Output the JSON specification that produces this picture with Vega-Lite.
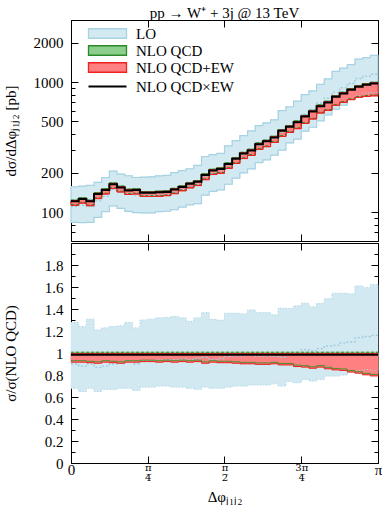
{
"$schema": "https://vega.github.io/schema/vega-lite/v6.json",
"padding": {"left": 2, "top": 5, "right": 5, "bottom": 0},
"spacing": 0,
"config": {
  "font": "Liberation Serif",
  "view": {"stroke": "black", "strokeWidth": 1},
  "axis": {"labelFont": "Liberation Serif", "labelFontSize": 15, "titleFont": "Liberation Serif", "titleFontSize": 15, "titleFontWeight": "normal", "labelColor": "black", "titleColor": "black", "domain": false, "grid": false, "tickColor": "black", "tickWidth": 1, "labelFlush": false, "labelOverlap": false, "labelBound": false},
  "legend": {"labelFont": "Liberation Serif", "labelFontSize": 15, "labelColor": "black"},
  "line": {"strokeJoin": "miter", "strokeCap": "butt"}
},
"datasets": {"h": [
{"i":0,"a":0,"b":0.07854,"lL":83.5,"lH":156.8,"lC":110.5,"qL":114.2,"qH":123.7,"eL":112.6,"eH":122.3,"m":121,"rlL":0.68,"rlH":1.277,"rlC":0.90,"rqL":0.93,"rqH":1.007,"reL":0.917,"reH":0.996,"rm":0.985},
{"i":1,"a":0.07854,"b":0.15708,"lL":83.1,"lH":158.6,"lC":112.6,"qL":118.9,"qH":128.8,"eL":117.3,"eH":127.4,"m":126,"rlL":0.65,"rlH":1.24,"rlC":0.88,"rqL":0.93,"rqH":1.007,"reL":0.917,"reH":0.996,"rm":0.985},
{"i":2,"a":0.15708,"b":0.23562,"lL":83.5,"lH":160.5,"lC":110.5,"qL":113.6,"qH":123.7,"eL":112.0,"eH":122.3,"m":121,"rlL":0.68,"rlH":1.307,"rlC":0.90,"rqL":0.925,"rqH":1.007,"reL":0.912,"reH":0.996,"rm":0.985},
{"i":3,"a":0.23562,"b":0.31416,"lL":91.1,"lH":169.5,"lC":121.9,"qL":128.9,"qH":141.1,"eL":127.1,"eH":139.5,"m":138,"rlL":0.65,"rlH":1.21,"rlC":0.87,"rqL":0.92,"rqH":1.007,"reL":0.907,"reH":0.996,"rm":0.985},
{"i":4,"a":0.31416,"b":0.3927,"lL":100.7,"lH":184.6,"lC":132.3,"qL":139.8,"qH":151.4,"eL":137.8,"eH":149.7,"m":148,"rlL":0.67,"rlH":1.228,"rlC":0.88,"rqL":0.93,"rqH":1.007,"reL":0.917,"reH":0.996,"rm":0.985},
{"i":5,"a":0.3927,"b":0.47124,"lL":111.6,"lH":206.5,"lC":149.9,"qL":154.0,"qH":167.7,"eL":151.8,"eH":165.8,"m":164,"rlL":0.67,"rlH":1.24,"rlC":0.90,"rqL":0.925,"rqH":1.007,"reL":0.912,"reH":0.996,"rm":0.985},
{"i":6,"a":0.47124,"b":0.54978,"lL":107.0,"lH":196.1,"lC":143.2,"qL":144.8,"qH":158.5,"eL":142.8,"eH":156.8,"m":155,"rlL":0.68,"rlH":1.246,"rlC":0.91,"rqL":0.92,"rqH":1.007,"reL":0.907,"reH":0.996,"rm":0.985},
{"i":7,"a":0.54978,"b":0.62832,"lL":101.5,"lH":190.5,"lC":138.8,"qL":138.8,"qH":150.2,"eL":136.8,"eH":148.6,"m":147,"rlL":0.68,"rlH":1.277,"rlC":0.93,"rqL":0.93,"rqH":1.007,"reL":0.917,"reH":0.996,"rm":0.985},
{"i":8,"a":0.62832,"b":0.70686,"lL":99.2,"lH":184.6,"lC":135.3,"qL":139.8,"qH":151.4,"eL":137.8,"eH":149.7,"m":148,"rlL":0.66,"rlH":1.228,"rlC":0.90,"rqL":0.93,"rqH":1.007,"reL":0.917,"reH":0.996,"rm":0.985},
{"i":9,"a":0.70686,"b":0.7854,"lL":98.7,"lH":186.0,"lC":133.1,"qL":133.8,"qH":144.1,"eL":131.9,"eH":142.5,"m":141,"rlL":0.69,"rlH":1.30,"rlC":0.93,"rqL":0.935,"rqH":1.007,"reL":0.922,"reH":0.996,"rm":0.985},
{"i":10,"a":0.7854,"b":0.86394,"lL":98.7,"lH":187.0,"lC":133.1,"qL":133.8,"qH":144.1,"eL":131.9,"eH":142.5,"m":141,"rlL":0.69,"rlH":1.307,"rlC":0.93,"rqL":0.935,"rqH":1.007,"reL":0.922,"reH":0.996,"rm":0.985},
{"i":11,"a":0.86394,"b":0.94248,"lL":100.9,"lH":190.2,"lC":134.8,"qL":134.1,"qH":145.2,"eL":132.2,"eH":143.6,"m":142,"rlL":0.70,"rlH":1.319,"rlC":0.935,"rqL":0.93,"rqH":1.007,"reL":0.917,"reH":0.996,"rm":0.985},
{"i":12,"a":0.94248,"b":1.02102,"lL":101.6,"lH":192.0,"lC":136.5,"qL":135.8,"qH":146.2,"eL":133.9,"eH":144.6,"m":143,"rlL":0.70,"rlH":1.322,"rlC":0.94,"rqL":0.935,"rqH":1.007,"reL":0.922,"reH":0.996,"rm":0.985},
{"i":13,"a":1.02102,"b":1.09956,"lL":104.4,"lH":201.4,"lC":142.2,"qL":140.7,"qH":152.4,"eL":138.7,"eH":150.7,"m":149,"rlL":0.69,"rlH":1.331,"rlC":0.94,"rqL":0.93,"rqH":1.007,"reL":0.917,"reH":0.996,"rm":0.985},
{"i":14,"a":1.09956,"b":1.1781,"lL":109.3,"lH":208.9,"lC":149.7,"qL":148.1,"qH":159.5,"eL":146.0,"eH":157.8,"m":156,"rlL":0.69,"rlH":1.319,"rlC":0.945,"rqL":0.935,"rqH":1.007,"reL":0.922,"reH":0.996,"rm":0.985},
{"i":15,"a":1.1781,"b":1.25664,"lL":113.9,"lH":215.6,"lC":157.5,"qL":155.8,"qH":168.7,"eL":153.6,"eH":166.8,"m":165,"rlL":0.68,"rlH":1.287,"rlC":0.94,"rqL":0.93,"rqH":1.007,"reL":0.917,"reH":0.996,"rm":0.985},
{"i":16,"a":1.25664,"b":1.33518,"lL":116.3,"lH":229.0,"lC":164.9,"qL":162.3,"qH":174.8,"eL":160.1,"eH":172.9,"m":171,"rlL":0.67,"rlH":1.319,"rlC":0.95,"rqL":0.935,"rqH":1.007,"reL":0.922,"reH":0.996,"rm":0.985},
{"i":17,"a":1.33518,"b":1.41372,"lL":135.2,"lH":267.8,"lC":188.1,"qL":180.2,"qH":197.3,"eL":177.7,"eH":195.1,"m":193,"rlL":0.69,"rlH":1.367,"rlC":0.96,"rqL":0.92,"rqH":1.007,"reL":0.907,"reH":0.996,"rm":0.985},
{"i":18,"a":1.41372,"b":1.49226,"lL":144.3,"lH":277.1,"lC":199.5,"qL":197.3,"qH":213.7,"eL":194.6,"eH":211.3,"m":209,"rlL":0.68,"rlH":1.306,"rlC":0.94,"rqL":0.93,"rqH":1.007,"reL":0.917,"reH":0.996,"rm":0.985},
{"i":19,"a":1.49226,"b":1.5708,"lL":148.4,"lH":283.1,"lC":207.4,"qL":201.9,"qH":219.8,"eL":199.1,"eH":217.4,"m":215,"rlL":0.68,"rlH":1.297,"rlC":0.95,"rqL":0.925,"rqH":1.007,"reL":0.912,"reH":0.996,"rm":0.985},
{"i":20,"a":1.5708,"b":1.64934,"lL":163.9,"lH":323.4,"lC":230.5,"qL":219.8,"qH":239.3,"eL":216.7,"eH":236.6,"m":234,"rlL":0.69,"rlH":1.361,"rlC":0.97,"rqL":0.925,"rqH":1.007,"reL":0.912,"reH":0.996,"rm":0.985},
{"i":21,"a":1.64934,"b":1.72788,"lL":182.6,"lH":355.1,"lC":254.4,"qL":240.0,"qH":262.7,"eL":236.6,"eH":259.9,"m":257,"rlL":0.70,"rlH":1.361,"rlC":0.975,"rqL":0.92,"rqH":1.007,"reL":0.907,"reH":0.996,"rm":0.985},
{"i":22,"a":1.72788,"b":1.80642,"lL":200.4,"lH":387.9,"lC":279.1,"qL":262.0,"qH":288.3,"eL":258.2,"eH":285.1,"m":282,"rlL":0.70,"rlH":1.355,"rlC":0.975,"rqL":0.915,"rqH":1.007,"reL":0.902,"reH":0.996,"rm":0.985},
{"i":23,"a":1.80642,"b":1.88496,"lL":214.8,"lH":420.8,"lC":296.5,"qL":276.8,"qH":304.6,"eL":272.9,"eH":301.3,"m":298,"rlL":0.71,"rlH":1.391,"rlC":0.98,"rqL":0.915,"rqH":1.007,"reL":0.902,"reH":0.996,"rm":0.985},
{"i":24,"a":1.88496,"b":1.9635,"lL":240.1,"lH":462.2,"lC":328.0,"qL":307.7,"qH":340.5,"eL":303.3,"eH":336.7,"m":333,"rlL":0.71,"rlH":1.367,"rlC":0.97,"rqL":0.91,"rqH":1.007,"reL":0.897,"reH":0.996,"rm":0.985},
{"i":25,"a":1.9635,"b":2.04204,"lL":252.3,"lH":485.7,"lC":346.4,"qL":323.3,"qH":357.8,"eL":318.7,"eH":353.9,"m":350,"rlL":0.71,"rlH":1.367,"rlC":0.975,"rqL":0.91,"rqH":1.007,"reL":0.897,"reH":0.996,"rm":0.985},
{"i":26,"a":2.04204,"b":2.12058,"lL":274.1,"lH":512.4,"lC":369.3,"qL":348.3,"qH":383.4,"eL":343.4,"eH":379.2,"m":375,"rlL":0.72,"rlH":1.346,"rlC":0.97,"rqL":0.915,"rqH":1.007,"reL":0.902,"reH":0.996,"rm":0.985},
{"i":27,"a":2.12058,"b":2.19911,"lL":299.9,"lH":602.8,"lC":411.3,"qL":387.7,"qH":431.4,"eL":382.1,"eH":426.7,"m":422,"rlL":0.70,"rlH":1.407,"rlC":0.96,"rqL":0.905,"rqH":1.007,"reL":0.892,"reH":0.996,"rm":0.985},
{"i":28,"a":2.19911,"b":2.27765,"lL":340.3,"lH":645.7,"lC":455.3,"qL":416.2,"qH":463.1,"eL":410.2,"eH":458.1,"m":453,"rlL":0.74,"rlH":1.404,"rlC":0.99,"rqL":0.905,"rqH":1.007,"reL":0.892,"reH":0.996,"rm":0.985},
{"i":29,"a":2.27765,"b":2.35619,"lL":364.6,"lH":713.3,"lC":499.5,"qL":444.6,"qH":503.0,"eL":438.1,"eH":497.5,"m":492,"rlL":0.73,"rlH":1.428,"rlC":1.0,"rqL":0.89,"rqH":1.007,"reL":0.877,"reH":0.996,"rm":0.985},
{"i":30,"a":2.35619,"b":2.43473,"lL":419.0,"lH":800.5,"lC":567.8,"qL":487.9,"qH":555.2,"eL":480.7,"eH":549.1,"m":543,"rlL":0.76,"rlH":1.452,"rlC":1.03,"rqL":0.885,"rqH":1.007,"reL":0.872,"reH":0.996,"rm":0.985},
{"i":31,"a":2.43473,"b":2.51327,"lL":449.2,"lH":855.7,"lC":615.1,"qL":527.6,"qH":607.2,"eL":519.8,"eH":600.6,"m":594,"rlL":0.745,"rlH":1.419,"rlC":1.02,"rqL":0.875,"rqH":1.007,"reL":0.862,"reH":0.996,"rm":0.985},
{"i":32,"a":2.51327,"b":2.59181,"lL":503.8,"lH":960.5,"lC":689.4,"qL":586.7,"qH":667.5,"eL":578.0,"eH":660.2,"m":653,"rlL":0.76,"rlH":1.449,"rlC":1.04,"rqL":0.885,"rqH":1.007,"reL":0.872,"reH":0.996,"rm":0.985},
{"i":33,"a":2.59181,"b":2.67035,"lL":559.0,"lH":1057.2,"lC":753.6,"qL":615.6,"qH":712.6,"eL":606.4,"eH":704.8,"m":697,"rlL":0.79,"rlH":1.494,"rlC":1.065,"rqL":0.87,"rqH":1.007,"reL":0.857,"reH":0.996,"rm":0.985},
{"i":34,"a":2.67035,"b":2.74889,"lL":618.3,"lH":1207.7,"lC":837.5,"qL":673.1,"qH":788.2,"eL":662.9,"eH":779.6,"m":771,"rlL":0.79,"rlH":1.543,"rlC":1.07,"rqL":0.86,"rqH":1.007,"reL":0.847,"reH":0.996,"rm":0.985},
{"i":35,"a":2.74889,"b":2.82743,"lL":663.5,"lH":1279.8,"lC":904.0,"qL":709.1,"qH":835.2,"eL":698.4,"eH":826.1,"m":817,"rlL":0.80,"rlH":1.543,"rlC":1.09,"rqL":0.855,"rqH":1.007,"reL":0.842,"reH":0.996,"rm":0.985},
{"i":36,"a":2.82743,"b":2.90597,"lL":744.5,"lH":1362.2,"lC":974.9,"qL":744.5,"qH":892.5,"eL":733.0,"eH":882.8,"m":873,"rlL":0.84,"rlH":1.537,"rlC":1.10,"rqL":0.84,"rqH":1.007,"reL":0.827,"reH":0.996,"rm":0.985},
{"i":37,"a":2.90597,"b":2.98451,"lL":784.6,"lH":1502.8,"lC":1064.8,"qL":775.2,"qH":940.5,"eL":763.1,"eH":930.3,"m":920,"rlL":0.84,"rlH":1.609,"rlC":1.14,"rqL":0.83,"rqH":1.007,"reL":0.817,"reH":0.996,"rm":0.985},
{"i":38,"a":2.98451,"b":3.06305,"lL":822.4,"lH":1542.2,"lC":1112.6,"qL":788.5,"qH":974.3,"eL":775.9,"eH":963.6,"m":953,"rlL":0.85,"rlH":1.594,"rlC":1.15,"rqL":0.815,"rqH":1.007,"reL":0.802,"reH":0.996,"rm":0.985},
{"i":39,"a":3.06305,"b":3.14159,"lL":831.4,"lH":1604.5,"lC":1148.2,"qL":796.8,"qH":996.7,"eL":783.9,"eH":985.8,"m":975,"rlL":0.84,"rlH":1.621,"rlC":1.16,"rqL":0.805,"rqH":1.007,"reL":0.792,"reH":0.996,"rm":0.985}
]},
"vconcat": [
{
  "width": 307, "height": 221,
  "title": {"text": "pp → W⁺ + 3j @ 13 TeV", "font": "Liberation Serif", "fontSize": 15, "fontWeight": "normal", "color": "black", "anchor": "middle", "frame": "group", "offset": -1},
  "data": {"name": "h"},
  "transform": [{"fold": ["a", "b"], "as": ["edge", "x"]}],
  "encoding": {
    "x": {"field": "x", "type": "quantitative", "scale": {"domain": [0, 3.141593], "nice": false, "zero": false}, "axis": null},
    "order": [{"field": "x", "type": "quantitative"}, {"field": "i", "type": "quantitative"}]
  },
  "layer": [
    {"mark": {"type": "area", "opacity": 1, "strokeWidth": 1.2},
     "encoding": {
       "x": {"field": "x", "type": "quantitative", "scale": {"domain": [0, 3.141593], "nice": false, "zero": false}, "axis": {"orient": "bottom", "values": [0, 0.785398, 1.570796, 2.356194, 3.141593], "labels": false, "tickSize": -7, "title": null}},
       "y": {"field": "lL", "type": "quantitative", "scale": {"type": "log", "domain": [60, 3000], "nice": false}, "axis": {"orient": "left", "values": [100, 200, 500, 1000, 2000], "format": "d", "tickSize": -7, "labelPadding": 15, "minExtent": 40, "maxExtent": 40, "titlePadding": 13, "title": "dσ/dΔφⱼ₁ⱼ₂ [pb]"}},
       "y2": {"field": "lH"},
       "fill": {"datum": "LO", "type": "nominal",
         "scale": {"domain": ["LO", "NLO QCD", "NLO QCD+EW"], "range": ["#d3e9f1", "#8ccf8c", "#ff8080"]},
         "legend": {"orient": "none", "legendX": 29, "legendY": 6, "title": null, "padding": 0, "symbolType": "M-5,-1.25H5V1.25H-5Z", "symbolSize": 57.76, "symbolStrokeWidth": 1.3, "labelOffset": 21, "rowPadding": 1}},
       "stroke": {"datum": "LO", "type": "nominal",
         "scale": {"domain": ["LO", "NLO QCD", "NLO QCD+EW"], "range": ["#a7d3e3", "#2a8a2a", "#ee2222"]},
         "legend": {"orient": "none", "legendX": 29, "legendY": 6, "title": null, "padding": 0, "symbolType": "M-5,-1.25H5V1.25H-5Z", "symbolSize": 57.76, "symbolStrokeWidth": 1.3, "labelOffset": 21, "rowPadding": 1}},
       "strokeDash": {"datum": "LO", "type": "nominal",
         "scale": {"domain": ["LO", "NLO QCD", "NLO QCD+EW"], "range": [[1, 1.5], [3, 2], [1, 0]]},
         "legend": {"orient": "none", "legendX": 29, "legendY": 6, "title": null, "padding": 0, "symbolType": "M-5,-1.25H5V1.25H-5Z", "symbolSize": 57.76, "symbolStrokeWidth": 1.3, "labelOffset": 21, "rowPadding": 1}}
     }},
    {"mark": {"type": "area", "opacity": 1, "strokeWidth": 1},
     "encoding": {
       "y": {"field": "qL", "type": "quantitative", "scale": {"type": "log", "domain": [60, 3000], "nice": false}, "axis": null},
       "y2": {"field": "qH"},
       "fill": {"datum": "NLO QCD", "type": "nominal", "legend": null},
       "stroke": {"datum": "NLO QCD", "type": "nominal", "legend": null},
       "strokeDash": {"datum": "NLO QCD", "type": "nominal", "legend": null}
     }},
    {"mark": {"type": "area", "opacity": 1, "strokeWidth": 1},
     "encoding": {
       "y": {"field": "eL", "type": "quantitative", "scale": {"type": "log", "domain": [60, 3000], "nice": false}, "axis": null},
       "y2": {"field": "eH"},
       "fill": {"datum": "NLO QCD+EW", "type": "nominal", "legend": null},
       "stroke": {"datum": "NLO QCD+EW", "type": "nominal", "legend": null},
       "strokeDash": {"datum": "NLO QCD+EW", "type": "nominal", "legend": null}
     }},
    {"mark": {"type": "line", "stroke": "#a7d3e3", "strokeDash": [1, 2], "strokeWidth": 1},
     "encoding": {
       "x": {"field": "x", "type": "quantitative", "scale": {"domain": [0, 3.141593], "nice": false, "zero": false}, "axis": {"orient": "top", "values": [0, 0.785398, 1.570796, 2.356194, 3.141593], "labels": false, "tickSize": -7, "title": null}},
       "y": {"field": "lL", "type": "quantitative", "scale": {"type": "log", "domain": [60, 3000], "nice": false}, "axis": {"orient": "left", "values": [70, 80, 90, 300, 400, 600, 700, 800, 900, 3000], "labels": false, "tickSize": -4, "title": null, "minExtent": 0, "maxExtent": 0}}
     }},
    {"mark": {"type": "line", "stroke": "#a7d3e3", "strokeDash": [1, 2], "strokeWidth": 1},
     "encoding": {
       "y": {"field": "lH", "type": "quantitative", "scale": {"type": "log", "domain": [60, 3000], "nice": false}, "axis": {"orient": "right", "values": [100, 200, 500, 1000, 2000], "labels": false, "tickSize": -7, "title": null, "minExtent": 0, "maxExtent": 0}}
     }},
    {"mark": {"type": "line", "stroke": "#9ccbdc", "strokeDash": [2, 2], "strokeWidth": 1.3},
     "encoding": {
       "y": {"field": "lC", "type": "quantitative", "scale": {"type": "log", "domain": [60, 3000], "nice": false}, "axis": {"orient": "right", "values": [70, 80, 90, 300, 400, 600, 700, 800, 900, 3000], "labels": false, "tickSize": -4, "title": null, "minExtent": 0, "maxExtent": 0}}
     }},
    {"mark": {"type": "line", "stroke": "#2a8a2a", "strokeDash": [3, 2], "strokeWidth": 1},
     "encoding": {"y": {"field": "qL", "type": "quantitative", "scale": {"type": "log", "domain": [60, 3000], "nice": false}, "axis": null}}},
    {"mark": {"type": "line", "stroke": "#2a8a2a", "strokeDash": [3, 2], "strokeWidth": 1},
     "encoding": {"y": {"field": "qH", "type": "quantitative", "scale": {"type": "log", "domain": [60, 3000], "nice": false}, "axis": null}}},
    {"mark": {"type": "line", "stroke": "#ee2020", "strokeWidth": 1},
     "encoding": {"y": {"field": "eL", "type": "quantitative", "scale": {"type": "log", "domain": [60, 3000], "nice": false}, "axis": null}}},
    {"mark": {"type": "line", "stroke": "#ee2020", "strokeWidth": 1},
     "encoding": {"y": {"field": "eH", "type": "quantitative", "scale": {"type": "log", "domain": [60, 3000], "nice": false}, "axis": null}}},
    {"mark": {"type": "line", "strokeWidth": 2},
     "encoding": {
       "y": {"field": "m", "type": "quantitative", "scale": {"type": "log", "domain": [60, 3000], "nice": false}, "axis": null},
       "color": {"datum": "NLO QCD×EW", "type": "nominal", "scale": {"domain": ["NLO QCD×EW"], "range": ["#000000"]},
         "legend": {"orient": "none", "legendX": 29, "legendY": 59, "title": null, "padding": 0, "symbolType": "M-5,0H5", "symbolSize": 57.76, "symbolStrokeWidth": 2, "symbolStrokeColor": "#000000", "labelOffset": 21}}
     }}
  ],
  "resolve": {"axis": {"x": "independent", "y": "independent"}}
},
{
  "width": 307, "height": 220,
  "data": {"name": "h"},
  "transform": [{"fold": ["a", "b"], "as": ["edge", "x"]}],
  "encoding": {
    "x": {"field": "x", "type": "quantitative", "scale": {"domain": [0, 3.141593], "nice": false, "zero": false}, "axis": null},
    "order": [{"field": "x", "type": "quantitative"}, {"field": "i", "type": "quantitative"}]
  },
  "layer": [
    {"mark": {"type": "area", "opacity": 1, "stroke": "#d3e9f1", "strokeWidth": 0.6},
     "encoding": {
       "x": {"field": "x", "type": "quantitative", "scale": {"domain": [0, 3.141593], "nice": false, "zero": false}, "axis": {"orient": "bottom", "values": [0, 0.785398, 1.570796, 2.356194, 3.141593], "tickSize": -7, "labelPadding": 6, "labelLineHeight": 10,
         "labelFontSize": {"condition": {"test": "datum.value > 0.1 && datum.value < 3", "value": 10}, "value": 15},
         "labelFont": {"condition": {"test": "datum.value > 0.1 && datum.value < 3", "value": "DejaVu Serif"}, "value": "Liberation Serif"},
         "labelExpr": "datum.value < 0.1 ? '0' : datum.value < 1 ? ['π','4̅'] : datum.value < 2 ? ['π','2̅'] : datum.value < 3 ? ['3π','4̅'] : 'π'",
         "title": "Δφⱼ₁ⱼ₂", "titlePadding": 7}},
       "y": {"field": "rlL", "type": "quantitative", "scale": {"domain": [0, 2], "nice": false, "zero": false}, "axis": {"orient": "left", "values": [0, 0.2, 0.4, 0.6, 0.8, 1, 1.2, 1.4, 1.6, 1.8], "format": "~g", "tickSize": -7, "labelPadding": 15, "minExtent": 40, "maxExtent": 40, "titlePadding": 13, "title": "σ/σ(NLO QCD)"}},
       "y2": {"field": "rlH"},
       "fill": {"datum": "LO", "type": "nominal", "legend": null}
     }},
    {"mark": {"type": "area", "opacity": 1, "stroke": "#8ccf8c", "strokeWidth": 0.6},
     "encoding": {
       "y": {"field": "rqL", "type": "quantitative", "scale": {"domain": [0, 2], "nice": false, "zero": false}, "axis": null},
       "y2": {"field": "rqH"},
       "fill": {"datum": "NLO QCD", "type": "nominal", "legend": null}
     }},
    {"mark": {"type": "area", "opacity": 1, "stroke": "#ff8080", "strokeWidth": 0.6},
     "encoding": {
       "y": {"field": "reL", "type": "quantitative", "scale": {"domain": [0, 2], "nice": false, "zero": false}, "axis": null},
       "y2": {"field": "reH"},
       "fill": {"datum": "NLO QCD+EW", "type": "nominal", "legend": null}
     }},
    {"mark": {"type": "line", "stroke": "#a7d3e3", "strokeDash": [1, 2], "strokeWidth": 1},
     "encoding": {
       "x": {"field": "x", "type": "quantitative", "scale": {"domain": [0, 3.141593], "nice": false, "zero": false}, "axis": {"orient": "top", "values": [0, 0.785398, 1.570796, 2.356194, 3.141593], "labels": false, "tickSize": -7, "title": null}},
       "y": {"field": "rlL", "type": "quantitative", "scale": {"domain": [0, 2], "nice": false, "zero": false}, "axis": {"orient": "left", "values": [0.1, 0.3, 0.5, 0.7, 0.9, 1.1, 1.3, 1.5, 1.7, 1.9], "labels": false, "tickSize": -4, "title": null, "minExtent": 0, "maxExtent": 0}}
     }},
    {"mark": {"type": "line", "stroke": "#a7d3e3", "strokeDash": [1, 2], "strokeWidth": 1},
     "encoding": {
       "y": {"field": "rlH", "type": "quantitative", "scale": {"domain": [0, 2], "nice": false, "zero": false}, "axis": {"orient": "right", "values": [0, 0.2, 0.4, 0.6, 0.8, 1, 1.2, 1.4, 1.6, 1.8], "labels": false, "tickSize": -7, "title": null, "minExtent": 0, "maxExtent": 0}}
     }},
    {"mark": {"type": "line", "stroke": "#9ccbdc", "strokeDash": [2, 2], "strokeWidth": 1.3},
     "encoding": {
       "y": {"field": "rlC", "type": "quantitative", "scale": {"domain": [0, 2], "nice": false, "zero": false}, "axis": {"orient": "right", "values": [0.1, 0.3, 0.5, 0.7, 0.9, 1.1, 1.3, 1.5, 1.7, 1.9], "labels": false, "tickSize": -4, "title": null, "minExtent": 0, "maxExtent": 0}}
     }},
    {"mark": {"type": "line", "stroke": "#ee2020", "strokeWidth": 1},
     "encoding": {"y": {"field": "reL", "type": "quantitative", "scale": {"domain": [0, 2], "nice": false, "zero": false}, "axis": null}}},
    {"mark": {"type": "line", "stroke": "#ee2020", "strokeWidth": 1},
     "encoding": {"y": {"field": "reH", "type": "quantitative", "scale": {"domain": [0, 2], "nice": false, "zero": false}, "axis": null}}},
    {"mark": {"type": "line", "stroke": "#4f8f2f", "strokeWidth": 1},
     "encoding": {"y": {"field": "rqL", "type": "quantitative", "scale": {"domain": [0, 2], "nice": false, "zero": false}, "axis": null}}},
    {"mark": {"type": "line", "stroke": "#2a8a2a", "strokeDash": [3, 2], "strokeWidth": 1},
     "encoding": {"y": {"field": "rqH", "type": "quantitative", "scale": {"domain": [0, 2], "nice": false, "zero": false}, "axis": null}}},
    {"mark": {"type": "line", "stroke": "#000000", "strokeWidth": 2},
     "encoding": {"y": {"field": "rm", "type": "quantitative", "scale": {"domain": [0, 2], "nice": false, "zero": false}, "axis": null}}}
  ],
  "resolve": {"axis": {"x": "independent", "y": "independent"}}
}
]
}
